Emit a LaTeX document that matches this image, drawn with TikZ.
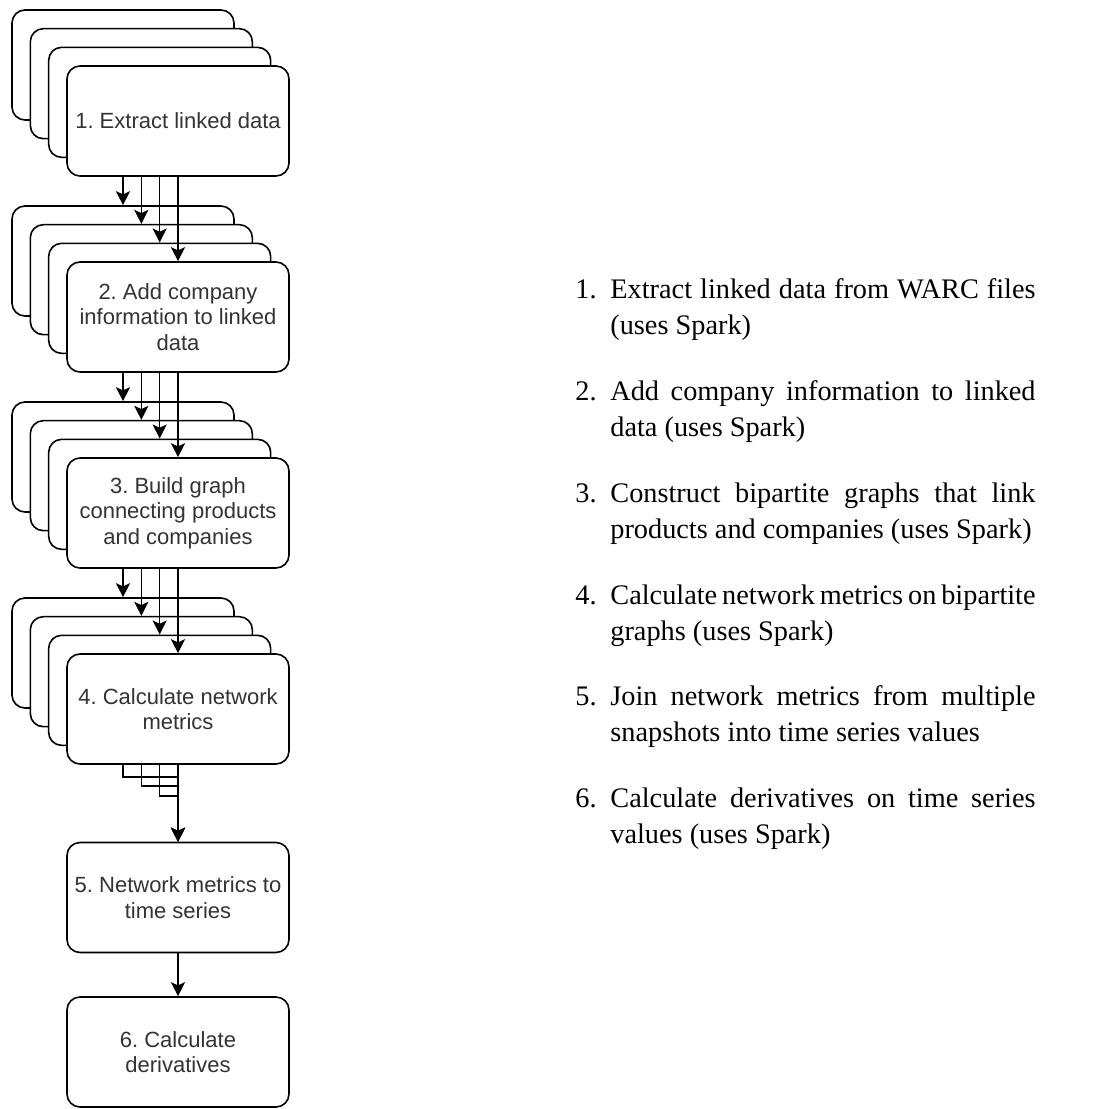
\documentclass[tikz,border=0pt]{standalone}
\usepackage{fontspec}
\setmainfont{Liberation Serif}
\newfontfamily\boxfont{Liberation Sans}
\usepackage[usenames,dvipsnames,x11names,rgb]{xcolor}
\usepackage{tikz}
\usetikzlibrary{arrows.meta}
\hyphenpenalty=10000
\exhyphenpenalty=10000
\tolerance=9999
\frenchspacing

\begin{document}
\begin{tikzpicture}[x=0.5pt, y=-0.5pt,
        layer/.style={draw=black, line width=0.8pt, fill=white, rounded corners=6.5pt, minimum width=111pt, minimum height=55pt, inner sep=2pt, align=center, text=black!80, font=\boxfont\fontsize{11}{12.75}\selectfont},
        arr/.style={line width=0.8pt, -{Stealth[length=7pt, width=7pt, inset=1.6pt]}},
        num/.style={anchor=base east, inner sep=0pt, font=\fontsize{14.15}{18.25}\selectfont},
        item/.style={anchor=base west, inner sep=0pt, text width=212.6pt, align=justify, font=\fontsize{14.15}{18.25}\selectfont}]
        \useasboundingbox (0, 0) rectangle (1107, 1109);

        \begin{scope}[shift={(0, 65)}]
            \node (extract1) at (123, 0)[layer] {};
            \node (extract2) at (141.33, 18.67)[layer] {};
            \node (extract3) at (159.67, 37.33)[layer] {};
            \node (extract4) at (178, 56)[layer] {1. Extract linked data};
        \end{scope}

        \begin{scope}[shift={(0, 261)}]
            \node (company1) at (123, 0)[layer] {};
            \node (company2) at (141.33, 18.67)[layer] {};
            \node (company3) at (159.67, 37.33)[layer] {};
            \node (company4) at (178, 56)[layer] {2. Add company \\ information to linked \\ data};
        \end{scope}

        \begin{scope}[shift={(0, 457)}]
            \node (graph1) at (123, 0)[layer] {};
            \node (graph2) at (141.33, 18.67)[layer] {};
            \node (graph3) at (159.67, 37.33)[layer] {};
            \node (graph4) at (178, 56)[layer] {3. Build graph \\ connecting products \\ and companies};
        \end{scope}

        \begin{scope}[shift={(0, 653)}]
            \node (metrics1) at (123, 0)[layer] {};
            \node (metrics2) at (141.33, 18.67)[layer] {};
            \node (metrics3) at (159.67, 37.33)[layer] {};
            \node (metrics4) at (178, 56)[layer] {4. Calculate network \\ metrics};
        \end{scope}

        \node (series) at (178, 897.5)[layer] {5. Network metrics to \\ time series};

        \node (derivs) at (178, 1052)[layer] {6. Calculate \\ derivatives};

        \draw[arr] (extract4.south -| extract1.south) -- (company1.north);
        \draw[arr] (extract4.south -| extract2.south) -- (company2.north);
        \draw[arr] (extract4.south -| extract3.south) -- (company3.north);
        \draw[arr] (extract4.south) -- (company4.north);

        \draw[arr] (company4.south -| company1.south) -- (graph1.north);
        \draw[arr] (company4.south -| company2.south) -- (graph2.north);
        \draw[arr] (company4.south -| company3.south) -- (graph3.north);
        \draw[arr] (company4.south) -- (graph4.north);

        \draw[arr] (graph4.south -| graph1.south) -- (metrics1.north);
        \draw[arr] (graph4.south -| graph2.south) -- (metrics2.north);
        \draw[arr] (graph4.south -| graph3.south) -- (metrics3.north);
        \draw[arr] (graph4.south) -- (metrics4.north);

        \draw[arr] (metrics4.south -| metrics1.south) -- ++(0, 12) -| (series.north);
        \draw[arr] (metrics4.south -| metrics2.south) -- ++(0, 21) -| (series.north);
        \draw[arr] (metrics4.south -| metrics3.south) -- ++(0, 31) -| (series.north);
        \draw[arr] (metrics4.south) -- (series.north);

        \draw[arr] (series) -- (derivs);

        \node (num1) at (597, 298)[num] {1.};
        \node (item1) at (610, 298)[item] {Extract linked data from WARC files (uses Spark)};

        \node (num2) at (597, 400)[num] {2.};
        \node (item2) at (610, 400)[item] {Add company information to linked data (uses Spark)};

        \node (num3) at (597, 502)[num] {3.};
        \node (item3) at (610, 502)[item] {Construct bipartite graphs that link products and companies (uses Spark)};

        \node (num4) at (597, 604)[num] {4.};
        \node (item4) at (610, 604)[item] {Calculate network metrics on bipartite graphs (uses Spark)};

        \node (num5) at (597, 705)[num] {5.};
        \node (item5) at (610, 705)[item] {Join network metrics from multiple snapshots into time series values};

        \node (num6) at (597, 807)[num] {6.};
        \node (item6) at (610, 807)[item] {Calculate derivatives on time series values (uses Spark)};
    \end{tikzpicture}
\end{document}
